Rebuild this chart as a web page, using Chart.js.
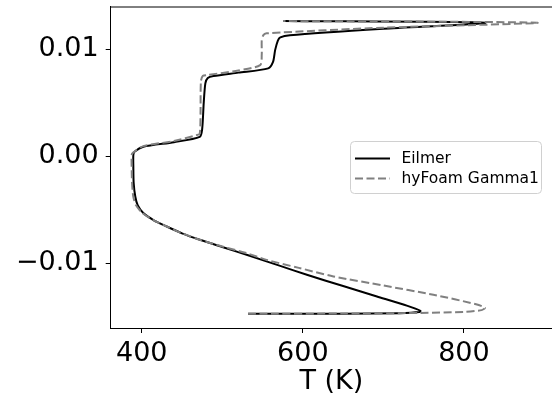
<!DOCTYPE html>
<html lang="en">
<head>
    <meta charset="UTF-8">
    <title>T profile</title>
    <script src="https://cdn.jsdelivr.net/npm/chart.js"></script>
    <style>
        html, body { margin: 0; padding: 0; background: #fff; overflow: hidden; }
        #wrap { width: 552px; height: 398px; }
    </style>
</head>
<body>
    <div id="wrap"><canvas id="profileChart"></canvas></div>

    <script>
        // values
        const seriesNames = ['Eilmer', 'hyFoam Gamma1'];
        const xTicks = [400, 600, 800];
        const yTicks = [-0.01, 0.0, 0.01];

        const eilmerT = [532, 650, 720, 745, 746, 730, 692, 650, 605, 570, 534, 500, 472, 450, 431, 415, 402, 395, 392, 390, 389.6, 389.6,
            391, 402, 440, 472, 475, 477, 479, 482, 489, 520, 557, 563, 565.6, 569, 572, 584, 700, 826, 576];
        const eilmerY = [-0.01474, -0.01473, -0.01468, -0.01458, -0.01446, -0.01400, -0.01312, -0.01215, -0.01109, -0.01022, -0.00932,
            -0.00850, -0.00782, -0.00722, -0.00658, -0.00600, -0.00533, -0.00460, -0.00378, -0.00250, -0.00097, 0.0001,
            0.0004, 0.00087, 0.0013, 0.0018, 0.0025, 0.0050, 0.0068, 0.0073, 0.00748, 0.0078, 0.0082, 0.0088, 0.0099, 0.0108,
            0.0111, 0.0113, 0.0119, 0.01246, 0.01262];

        const hyfoamT = [532, 650, 746, 800, 822, 826, 815, 762, 700, 638, 595, 555, 530, 500, 472, 450, 431, 415, 401, 393, 389.5, 388,
            387.5, 387.5, 389, 402, 440, 468, 472, 473, 473.5, 476, 481, 520, 547, 549, 549, 551, 555, 700, 891, 576];
        const hyfoamY = [-0.01474, -0.01472, -0.01466, -0.01457, -0.01440, -0.01418, -0.01385, -0.01296, -0.01210, -0.01125, -0.01045,
            -0.0097, -0.00907, -0.00845, -0.00782, -0.00722, -0.00658, -0.00600, -0.00533, -0.00460, -0.00378, -0.00250,
            -0.00097, 0.0001, 0.0003, 0.00093, 0.0014, 0.00196, 0.0021, 0.0040, 0.0070, 0.0075, 0.00757, 0.0080, 0.0085,
            0.0095, 0.0108, 0.0113, 0.01147, 0.0120, 0.01246, 0.01262];

        const toPoints = (xs, ys) => xs.map((x, i) => ({ x: x, y: ys[i] }));

        const FONT = 'DejaVu Sans';

        // top frame line + matplotlib-like legend box inside the axes
        const framePlugin = {
            id: 'frameAndLegend',
            afterDraw(chart) {
                const ctx = chart.ctx;
                const a = chart.chartArea;
                ctx.save();
                ctx.strokeStyle = '#000';
                ctx.lineWidth = 1;
                ctx.beginPath();
                ctx.moveTo(a.left, a.top + 0.5);
                ctx.lineTo(a.right, a.top + 0.5);
                ctx.stroke();

                const bx = 350.5, by = 141.5, bw = 191, bh = 52, r = 4;
                ctx.beginPath();
                ctx.roundRect(bx, by, bw, bh, r);
                ctx.fillStyle = 'rgba(255,255,255,0.8)';
                ctx.fill();
                ctx.strokeStyle = '#d0d0d0';
                ctx.stroke();

                const rows = [158.5, 178.5];
                chart.data.datasets.forEach((ds, i) => {
                    ctx.beginPath();
                    ctx.setLineDash(ds.borderDash || []);
                    ctx.strokeStyle = ds.borderColor;
                    ctx.lineWidth = ds.borderWidth;
                    ctx.moveTo(355, rows[i]);
                    ctx.lineTo(390, rows[i]);
                    ctx.stroke();
                    ctx.setLineDash([]);
                    ctx.fillStyle = '#000';
                    ctx.font = '15.5px "' + FONT + '"';
                    ctx.textBaseline = 'middle';
                    ctx.fillText(ds.label, 401.5, rows[i]);
                });
                ctx.restore();
            }
        };

        const ctx = document.getElementById('profileChart').getContext('2d');
        const chart = new Chart(ctx, {
            type: 'scatter',
            data: {
                datasets: [{
                    label: seriesNames[0],
                    data: toPoints(eilmerT, eilmerY),
                    showLine: true,
                    borderColor: '#000000',
                    borderWidth: 2,
                    pointRadius: 0,
                    tension: 0.25,
                    order: 1
                }, {
                    label: seriesNames[1],
                    data: toPoints(hyfoamT, hyfoamY),
                    showLine: true,
                    borderColor: '#808080',
                    borderWidth: 2,
                    borderDash: [8, 3.5],
                    pointRadius: 0,
                    tension: 0.25,
                    order: 0
                }]
            },
            options: {
                responsive: true,
                maintainAspectRatio: false,
                animation: false,
                layout: { padding: { top: 6.5, right: 0, left: 0, bottom: 0 } },
                plugins: {
                    legend: { display: false },
                    tooltip: { enabled: false }
                },
                scales: {
                    x: {
                        type: 'linear',
                        min: 361.5,
                        max: 909.3,
                        afterFit: s => { s.height = 70; s.paddingLeft = 0; s.paddingRight = 0; },
                        afterBuildTicks: s => { s.ticks = xTicks.map(v => ({ value: v })); },
                        grid: { drawOnChartArea: false, tickLength: 5, color: '#000' },
                        border: { color: '#000', width: 1 },
                        ticks: {
                            color: '#000',
                            padding: 5,
                            maxRotation: 0,
                            font: { family: FONT, size: 27 },
                            callback: v => String(v)
                        },
                        title: {
                            display: true,
                            text: 'T (K)',
                            color: '#000',
                            padding: { top: 0, bottom: 0 },
                            font: { family: FONT, size: 27 }
                        }
                    },
                    y: {
                        type: 'linear',
                        min: -0.01607,
                        max: 0.01398,
                        afterFit: s => { s.width = 110.7; s.paddingTop = 0; s.paddingBottom = 0; },
                        afterBuildTicks: s => { s.ticks = yTicks.map(v => ({ value: v })); },
                        grid: { drawOnChartArea: false, tickLength: 5, color: '#000' },
                        border: { color: '#000', width: 1 },
                        ticks: {
                            color: '#000',
                            padding: 7,
                            font: { family: FONT, size: 27 },
                            callback: v => v.toFixed(2).replace('-', '\u2212')
                        }
                    }
                }
            },
            plugins: [framePlugin]
        });
    </script>
</body>
</html>
